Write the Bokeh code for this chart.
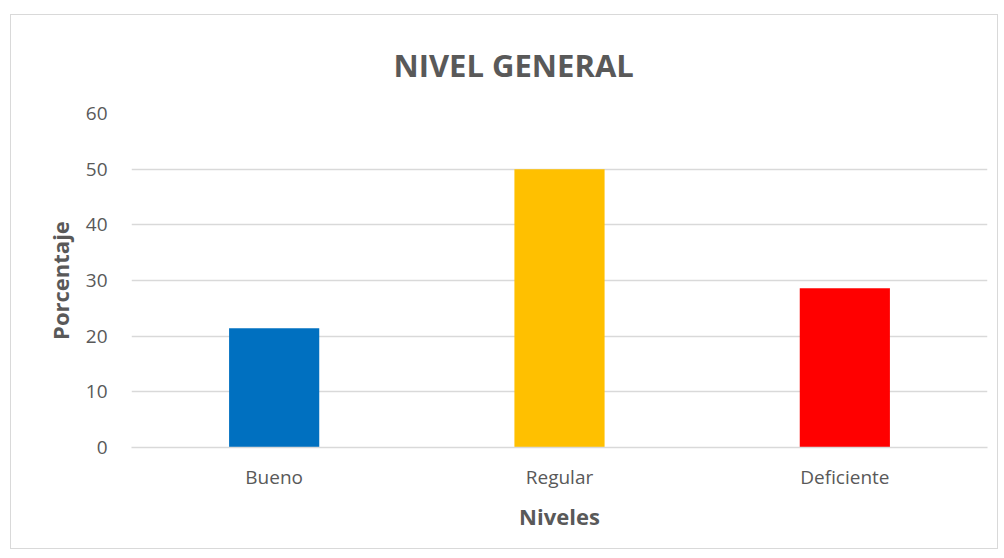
from bokeh.plotting import figure
from bokeh.models import ColumnDataSource, FactorRange, Range1d, InlineStyleSheet
from bokeh.embed import file_html
from bokeh.resources import INLINE

categories = ["Bueno", "Regular", "Deficiente"]
values = [21.4, 50.0, 28.6]
colors = ["#0070C0", "#FFC000", "#FF0000"]
y_ticks = [0, 10, 20, 30, 40, 50, 60]
title_text = "NIVEL GENERAL"

source = ColumnDataSource(data=dict(cat=categories, val=values, color=colors))

FONT = "Open Sans"
GRAY = "#595959"

p = figure(
    x_range=FactorRange(*categories),
    y_range=Range1d(0, 60),
    width=988, height=535,
    output_backend="svg",
    toolbar_location=None,
    min_border_left=120, min_border_right=12,
    min_border_top=98, min_border_bottom=103,
)
p.stylesheets = [InlineStyleSheet(css=":host { border: 1px solid #D9D9D9; margin-left: 10px; margin-top: 14px; }")]

p.vbar(x="cat", top="val", width=0.316, color="color", line_color=None, source=source)

p.title.text = title_text
p.title.align = "left"
p.title.offset = 262
p.title.vertical_align = "top"
p.title.text_line_height = 0.5
p.title.text_font = FONT
p.title.text_font_size = "31px"
p.title.text_font_style = "bold"
p.title.text_color = GRAY
p.title.standoff = 51

p.outline_line_color = None
p.background_fill_color = "white"
p.border_fill_color = "white"

p.xgrid.grid_line_color = None
p.ygrid.grid_line_color = "#D9D9D9"
p.ygrid.grid_line_width = 1.5
p.yaxis.ticker = y_ticks

for ax in (p.xaxis[0], p.yaxis[0]):
    ax.major_tick_line_color = None
    ax.minor_tick_line_color = None
    ax.major_label_text_font = FONT
    ax.major_label_text_font_size = "19px"
    ax.major_label_text_color = GRAY
    ax.axis_label_text_font = FONT
    ax.axis_label_text_font_size = "22px"
    ax.axis_label_text_font_style = "bold"
    ax.axis_label_text_color = GRAY

p.yaxis.axis_line_color = None
p.yaxis.major_label_standoff = 18
p.yaxis.axis_label = "Porcentaje"
p.yaxis.axis_label_standoff = 8

p.xaxis.axis_line_color = "#D9D9D9"
p.xaxis.axis_line_width = 1.5
p.xaxis.major_label_standoff = 10
p.xaxis.axis_label = "Niveles"
p.xaxis.axis_label_standoff = 8

open("out.html", "w").write(file_html(p, INLINE))
